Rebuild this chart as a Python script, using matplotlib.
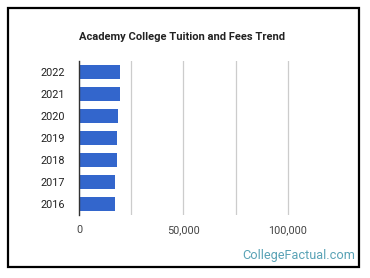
import matplotlib.pyplot as plt
from matplotlib.patches import Rectangle
from matplotlib.ticker import FuncFormatter

years = ['2016', '2017', '2018', '2019', '2020', '2021', '2022']
tuition = [17400, 17400, 18400, 18400, 18900, 19400, 19400]

plt.rcParams['font.family'] = ['Roboto', 'DejaVu Sans']

fig = plt.figure(figsize=(3.70, 2.78), dpi=100)
fig.patches.append(Rectangle((8/370, 1-267/278), 351/370, 259/278,
                             transform=fig.transFigure, fill=False,
                             edgecolor='black', linewidth=1.6))

ax = fig.add_axes([79/370, 1-215/278, 261/370, 154/278])
ax.barh(years, tuition, height=0.6, color='#3366cc', zorder=2)
ax.set_xlim(0, 125000)
ax.set_ylim(-0.5, 6.5)

ax.set_xticks([0, 50000, 100000])
ax.set_xticks([25000, 75000], minor=True)
ax.xaxis.set_major_formatter(FuncFormatter(lambda v, p: f'{int(v):,}'))
ax.grid(axis='x', which='both', color='#cccccc', linewidth=0.9, zorder=0)
ax.tick_params(axis='x', which='both', length=0, pad=7, labelsize=7.8, labelcolor='#444444')
ax.tick_params(axis='y', length=0, pad=10, labelsize=7.8, labelcolor='#222222')

for s in ['top', 'right', 'bottom']:
    ax.spines[s].set_visible(False)
ax.spines['left'].set_color('#333333')
ax.spines['left'].set_linewidth(1.0)
ax.spines['left'].set_zorder(3)

fig.text(79/370, 1-37/278, 'Academy College Tuition and Fees Trend',
         fontsize=8, fontweight='bold', color='#222222', va='center', ha='left')
fig.text(355/370, 1-256/278, 'CollegeFactual.com', fontsize=9.2,
         color='#5aa3b6', va='center', ha='right')

fig.savefig('out.png', dpi=100)
